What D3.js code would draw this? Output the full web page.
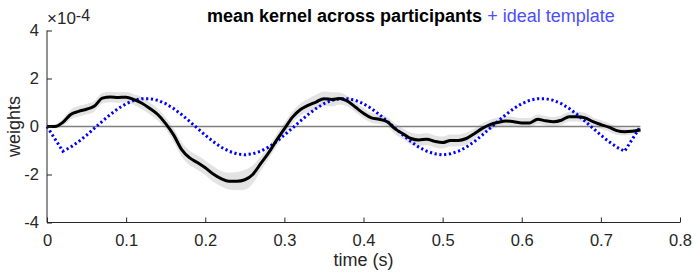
<!DOCTYPE html>
<html><head><meta charset="utf-8">
<script src="https://cdn.jsdelivr.net/npm/d3@7"></script>
<style>
html,body{margin:0;padding:0;background:#fff;}
svg{display:block;font-family:"Liberation Sans",Arial,Helvetica,sans-serif;}
</style></head>
<body><svg id="c" width="693" height="273"></svg>
<script>
// time (s)
const time = [0.00,0.01,0.02,0.03,0.04,0.05,0.06,0.07,0.08,0.09,0.10,0.11,0.12,0.13,0.14,0.15,0.16,0.17,0.18,0.19,0.20,0.21,0.22,0.23,0.24,0.25,0.26,0.27,0.28,0.29,0.30,0.31,0.32,0.33,0.34,0.35,0.36,0.37,0.38,0.39,0.40,0.41,0.42,0.43,0.44,0.45,0.46,0.47,0.48,0.49,0.50,0.51,0.52,0.53,0.54,0.55,0.56,0.57,0.58,0.59,0.60,0.61,0.62,0.63,0.64,0.65,0.66,0.67,0.68,0.69,0.70,0.71,0.72,0.73,0.74,0.75];
// mean kernel (x1e-4)
const meanKernel = [0.0,0.0,0.17,0.5,0.63,0.72,0.85,1.18,1.23,1.21,1.22,1.12,0.97,0.75,0.5,0.12,-0.35,-0.95,-1.3,-1.5,-1.72,-1.98,-2.17,-2.28,-2.28,-2.22,-2.0,-1.55,-1.1,-0.58,-0.1,0.38,0.7,0.88,1.02,1.16,1.13,1.17,1.05,0.8,0.55,0.36,0.3,0.2,-0.1,-0.3,-0.5,-0.56,-0.53,-0.62,-0.67,-0.58,-0.58,-0.5,-0.3,-0.08,0.08,0.17,0.23,0.2,0.15,0.15,0.3,0.24,0.2,0.26,0.41,0.41,0.36,0.2,0.08,-0.03,-0.17,-0.22,-0.2,-0.15];
// standard error half-width (x1e-4)
const semKernel = [0.05,0.08,0.15,0.2,0.22,0.22,0.22,0.22,0.22,0.22,0.22,0.22,0.25,0.25,0.25,0.25,0.28,0.3,0.3,0.3,0.3,0.32,0.32,0.35,0.38,0.42,0.38,0.3,0.25,0.25,0.25,0.25,0.25,0.28,0.3,0.3,0.3,0.25,0.22,0.22,0.22,0.2,0.2,0.2,0.22,0.22,0.25,0.25,0.25,0.25,0.25,0.25,0.25,0.25,0.22,0.2,0.2,0.2,0.2,0.2,0.2,0.2,0.2,0.2,0.2,0.2,0.2,0.2,0.2,0.18,0.18,0.18,0.18,0.15,0.12,0.1];
// ideal template
const tplTime = [0.00,0.02,0.03,0.04,0.05,0.06,0.07,0.08,0.09,0.10,0.11,0.12,0.13,0.14,0.15,0.16,0.17,0.18,0.19,0.20,0.21,0.22,0.23,0.24,0.25,0.26,0.27,0.28,0.29,0.30,0.31,0.32,0.33,0.34,0.35,0.36,0.37,0.38,0.39,0.40,0.41,0.42,0.43,0.44,0.45,0.46,0.47,0.48,0.49,0.50,0.51,0.52,0.53,0.54,0.55,0.56,0.57,0.58,0.59,0.60,0.61,0.62,0.63,0.64,0.65,0.66,0.67,0.68,0.69,0.70,0.71,0.72,0.73,0.75];
const tplValue = [0,-1.03,-0.86,-0.63,-0.36,-0.07,0.22,0.50,0.75,0.95,1.09,1.16,1.16,1.09,0.95,0.75,0.50,0.22,-0.07,-0.36,-0.63,-0.86,-1.03,-1.14,-1.18,-1.14,-1.03,-0.86,-0.63,-0.36,-0.07,0.22,0.50,0.75,0.95,1.09,1.16,1.16,1.09,0.95,0.75,0.50,0.22,-0.07,-0.36,-0.63,-0.86,-1.03,-1.14,-1.18,-1.14,-1.03,-0.86,-0.63,-0.36,-0.07,0.22,0.50,0.75,0.95,1.09,1.16,1.16,1.09,0.95,0.75,0.50,0.22,-0.07,-0.36,-0.63,-0.86,-1.03,0];
const xTicks = [0,0.1,0.2,0.3,0.4,0.5,0.6,0.7,0.8];
const yTicks = [-4,-2,0,2,4];

const svg = d3.select("#c");
const axCol = "#262626";
const x = d3.scaleLinear().domain([0,0.8]).range([47,680]);
const y = d3.scaleLinear().domain([-4,4]).range([222.5,30.5]);

const kd = time.map((t,i)=>({t, v:meanKernel[i], s:semKernel[i]}));
const td = tplTime.map((t,i)=>({t, v:tplValue[i]}));

// band
svg.append("path").datum(kd)
  .attr("d", d3.area().x(d=>x(d.t)).y0(d=>y(d.v-d.s)).y1(d=>y(d.v+d.s)).curve(d3.curveMonotoneX))
  .attr("fill","#e3e3e3").attr("stroke","none");

// zero line
svg.append("line").attr("x1",x(0)).attr("x2",x(0.75)).attr("y1",y(0)).attr("y2",y(0))
  .attr("stroke","#7f7f7f").attr("stroke-width",1.5);

// template
svg.append("path").datum(td)
  .attr("d", d3.line().x(d=>x(d.t)).y(d=>y(d.v)))
  .attr("fill","none").attr("stroke","#0000ff").attr("stroke-width",3)
  .attr("stroke-dasharray","2.2 2.6");

// mean kernel
svg.append("path").datum(kd)
  .attr("d", d3.line().x(d=>x(d.t)).y(d=>y(d.v)).curve(d3.curveMonotoneX))
  .attr("fill","none").attr("stroke","#000").attr("stroke-width",3).attr("stroke-linejoin","round");

// axes
const xa = svg.append("g").attr("transform",`translate(0,${y(-4)})`)
  .call(d3.axisBottom(x).tickValues(xTicks).tickSize(-5).tickPadding(12).tickFormat(d=>d===0?"0":d3.format(".1f")(d)));
const ya = svg.append("g").attr("transform",`translate(${x(0)},0)`)
  .call(d3.axisLeft(y).tickValues(yTicks).tickSize(-5).tickPadding(8).tickFormat(d=>d));
[xa,ya].forEach(g=>{
  g.select(".domain").attr("stroke",axCol).attr("stroke-width",1);
  g.selectAll(".tick line").attr("stroke",axCol);
  g.selectAll("text").attr("fill",axCol).attr("font-size",16.5).attr("font-family","Liberation Sans, Arial, sans-serif");
});
ya.select(".domain").attr("d",`M0,${y(-4)}V${y(4)}`);
xa.select(".domain").attr("d",`M${x(0)},0H${x(0.8)}`);

// exponent
const ex = svg.append("text").attr("x",47).attr("y",24).attr("fill",axCol).attr("font-size",17);
ex.append("tspan").text("×10");
ex.append("tspan").attr("dy",-3).attr("font-size",16).text("-4");

// labels
svg.append("text").attr("x",x(0.4)).attr("y",266).attr("text-anchor","middle")
  .attr("fill",axCol).attr("font-size",18).text("time (s)");
svg.append("text").attr("transform",`translate(19.5,${y(0)}) rotate(-90)`).attr("text-anchor","middle")
  .attr("fill",axCol).attr("font-size",18).text("weights");

// title
const tt = svg.append("text").attr("x",207).attr("y",22).attr("font-size",18);
tt.append("tspan").attr("font-weight","bold").attr("fill","#000").text("mean kernel across participants");
tt.append("tspan").attr("fill","#4d4dff").text(" + ideal template");
</script></body></html>
